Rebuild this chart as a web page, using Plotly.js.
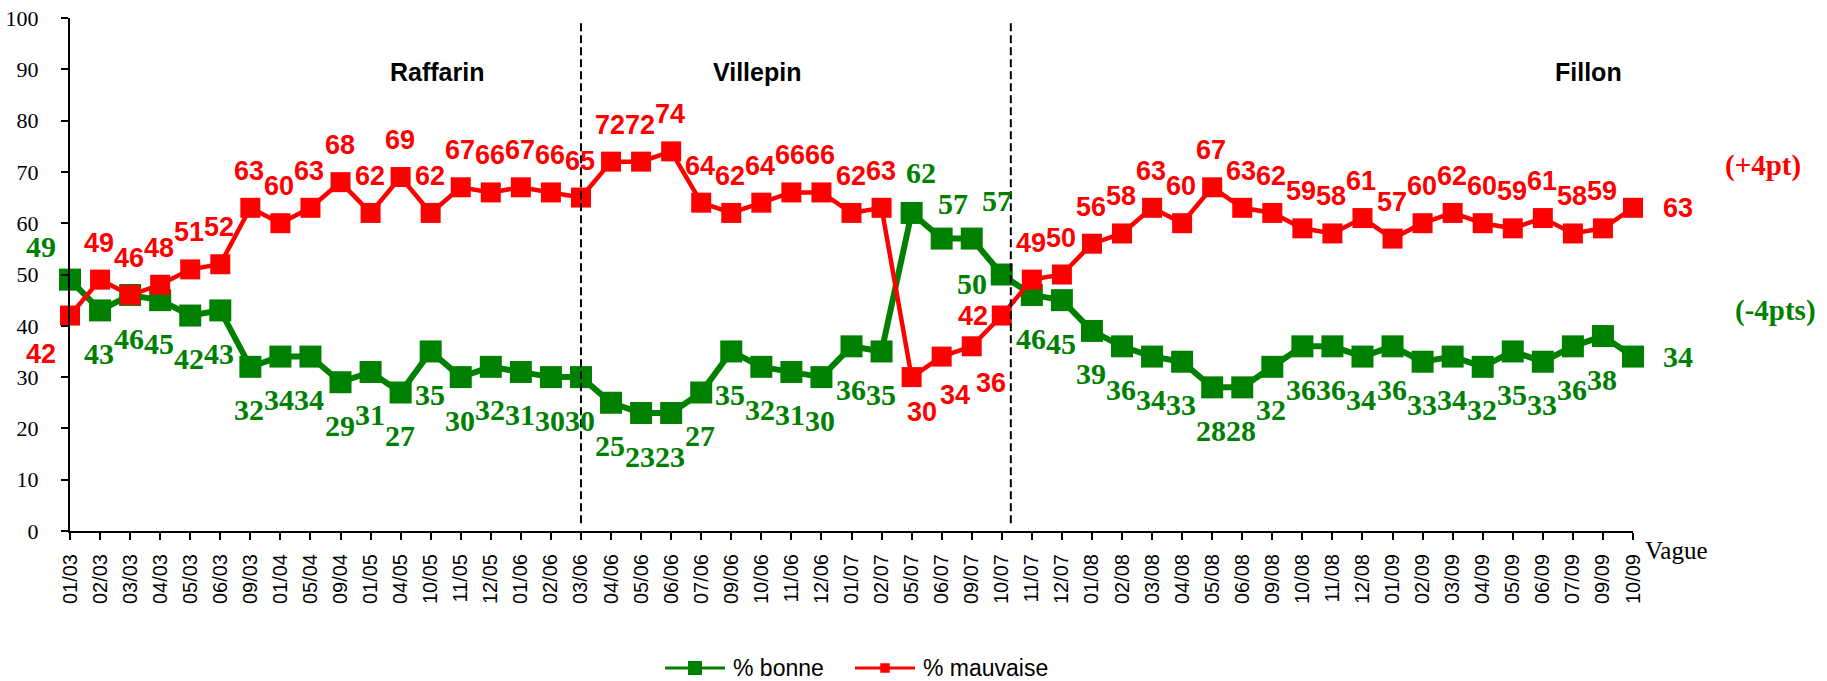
<!DOCTYPE html>
<html>
<head>
<meta charset="utf-8">
<script src="https://cdn.plot.ly/plotly-3.0.1.min.js"></script>
<style>
  html, body { margin: 0; padding: 0; background: #fff; }
  #chart { width: 1827px; height: 681px; }
</style>
</head>
<body>
<div id="chart"></div>
<script>
// ---- data ----
const categories = ['01/03','02/03','03/03','04/03','05/03','06/03','09/03','01/04','05/04','09/04',
  '01/05','04/05','10/05','11/05','12/05','01/06','02/06','03/06','04/06','05/06',
  '06/06','07/06','09/06','10/06','11/06','12/06','01/07','02/07','05/07','06/07',
  '09/07','10/07','11/07','12/07','01/08','02/08','03/08','04/08','05/08','06/08',
  '09/08','10/08','11/08','12/08','01/09','02/09','03/09','04/09','05/09','06/09',
  '07/09','09/09','10/09'];
const bonne = [49,43,46,45,42,43,32,34,34,29,31,27,35,30,32,31,30,30,25,23,23,27,35,32,31,30,36,35,
  62,57,57,50,46,45,39,36,34,33,28,28,32,36,36,34,36,33,34,32,35,33,36,38,34];
const mauvaise = [42,49,46,48,51,52,63,60,63,68,62,69,62,67,66,67,66,65,72,72,74,64,62,64,66,66,62,63,
  30,34,36,42,49,50,56,58,63,60,67,63,62,59,58,61,57,60,62,60,59,61,58,59,63];
const seriesNames = ['% bonne', '% mauvaise'];
const periods = [
  {name: 'Raffarin', at: '10/05'},
  {name: 'Villepin', at: '09/06'},
  {name: 'Fillon',   at: '07/09'}
];
const changeNotes = ['(+4pt)', '(-4pts)'];
const axisTitleX = 'Vague';
// government changes: separators (category, fraction toward next category)
const separators = [{after: '03/06', frac: 0.0}, {after: '10/07', frac: 0.3}];

// ---- styles ----
const GREEN = '#008000', RED = '#FF0000';
const SERIF = '"Liberation Serif", "Times New Roman", serif';
const SANS = '"Liberation Sans", Arial, sans-serif';
const W = 1827, H = 681;
const M = {l: 70, r: 194, t: 18, b: 150};
const PW = W - M.l - M.r, PH = H - M.t - M.b;
const px2paperX = px => (px - M.l) / PW;
const px2paperY = py => (H - M.b - py) / PH;

const redShiftDefault = [-1, -37];
const redShiftSpecial = {0:[-29,38], 28:[10,35], 29:[13,38], 30:[19,37], 31:[-29,0], 52:[45,0]};
const greenShiftDefault = [-1, 43];
const greenShiftSpecial = {0:[-29,-33], 28:[9,-40], 29:[11,-35], 30:[25,-38], 31:[-30,9], 52:[45,0]};

const traces = [
  {
    x: categories, y: bonne, name: seriesNames[0], type: 'scatter', mode: 'lines+markers',
    line: {color: GREEN, width: 6},
    marker: {symbol: 'square', size: 22, color: GREEN},
    cliponaxis: false, hoverinfo: 'skip', showlegend: false
  },
  {
    x: categories, y: mauvaise, name: seriesNames[1], type: 'scatter', mode: 'lines+markers',
    line: {color: RED, width: 4.5},
    marker: {symbol: 'square', size: 20, color: RED},
    cliponaxis: false, hoverinfo: 'skip', showlegend: false
  }
];

const annotations = [];
bonne.forEach((v, i) => {
  const s = greenShiftSpecial[i] || greenShiftDefault;
  annotations.push({
    x: categories[i], y: v, xref: 'x', yref: 'y', text: String(v), showarrow: false,
    xshift: s[0], yshift: -s[1], xanchor: 'center', yanchor: 'middle',
    font: {family: SERIF, size: 30, color: GREEN, weight: 'bold'}
  });
});
mauvaise.forEach((v, i) => {
  const s = redShiftSpecial[i] || redShiftDefault;
  annotations.push({
    x: categories[i], y: v, xref: 'x', yref: 'y', text: String(v), showarrow: false,
    xshift: s[0], yshift: -s[1], xanchor: 'center', yanchor: 'middle',
    font: {family: SANS, size: 27, color: RED, weight: 'bold'}
  });
});
// period names
const periodY = 89.5;
const periodShift = [0.2, 0.87, 0.53];
periods.forEach((p, k) => {
  annotations.push({
    x: categories.indexOf(p.at) + periodShift[k], y: periodY, xref: 'x', yref: 'y', text: p.name,
    showarrow: false, xanchor: 'center', yanchor: 'middle',
    font: {family: SANS, size: 25, color: '#000', weight: 'bold'}
  });
});
annotations.push({
  x: px2paperX(1763), y: px2paperY(165), xref: 'paper', yref: 'paper', text: changeNotes[0], showarrow: false,
  xanchor: 'center', yanchor: 'middle',
  font: {family: SERIF, size: 29, color: RED, weight: 'bold'}
});
annotations.push({
  x: px2paperX(1775), y: px2paperY(310), xref: 'paper', yref: 'paper', text: changeNotes[1], showarrow: false,
  xanchor: 'center', yanchor: 'middle',
  font: {family: SERIF, size: 29, color: GREEN, weight: 'bold'}
});
annotations.push({
  x: px2paperX(1676), y: px2paperY(550), xref: 'paper', yref: 'paper', text: axisTitleX, showarrow: false,
  xanchor: 'center', yanchor: 'middle',
  font: {family: SERIF, size: 25, color: '#000'}
});

const shapes = separators.map(s => {
  const xi = categories.indexOf(s.after) + s.frac;
  return {
    type: 'line', xref: 'x', yref: 'y', x0: xi, x1: xi, y0: 1.5, y1: 99.5,
    line: {color: '#000', width: 2, dash: '8px,4px'}
  };
});

// ---- legend (line + square swatch, then label) ----
const legendItems = [
  {name: seriesNames[0], color: GREEN, lineFrom: 665, sq: 14},
  {name: seriesNames[1], color: RED, lineFrom: 855, sq: 9.5}
];
const legY = 668;
legendItems.forEach(it => {
  shapes.push({
    type: 'line', xref: 'paper', yref: 'paper',
    x0: px2paperX(it.lineFrom), x1: px2paperX(it.lineFrom + 60),
    y0: px2paperY(legY), y1: px2paperY(legY),
    line: {color: it.color, width: 3}
  });
  const c = it.lineFrom + 30, h = it.sq / 2;
  shapes.push({
    type: 'rect', xref: 'paper', yref: 'paper',
    x0: px2paperX(c - h), x1: px2paperX(c + h),
    y0: px2paperY(legY + h), y1: px2paperY(legY - h),
    fillcolor: it.color, line: {width: 0}
  });
  annotations.push({
    x: px2paperX(it.lineFrom + 66), y: px2paperY(legY), xref: 'paper', yref: 'paper',
    text: it.name, showarrow: false, xanchor: 'left', yanchor: 'middle',
    font: {family: SANS, size: 23, color: '#000'}
  });
});

const layout = {
  width: W, height: H,
  margin: {l: M.l, r: M.r, t: M.t, b: M.b, pad: 0, autoexpand: false},
  paper_bgcolor: '#fff', plot_bgcolor: '#fff',
  showlegend: false,
  xaxis: {
    type: 'category', range: [0, categories.length - 1], automargin: false,
    showgrid: false, zeroline: false,
    showline: true, linecolor: '#000', linewidth: 2,
    ticks: 'outside', ticklen: 7, tickwidth: 2, tickcolor: '#000',
    tickangle: -90, ticklabelstandoff: 6,
    tickfont: {family: SANS, size: 20, color: '#000'}
  },
  yaxis: {
    range: [0, 100], dtick: 10, tick0: 0, automargin: false,
    showgrid: false, zeroline: false,
    showline: true, linecolor: '#000', linewidth: 2,
    ticks: 'outside', ticklen: 7, tickwidth: 2, tickcolor: '#000',
    ticklabelstandoff: 18,
    tickfont: {family: SERIF, size: 22, color: '#000'}
  },
  annotations: annotations,
  shapes: shapes
};

Plotly.newPlot('chart', traces, layout, {displayModeBar: false, staticPlot: true});
</script>
</body>
</html>
